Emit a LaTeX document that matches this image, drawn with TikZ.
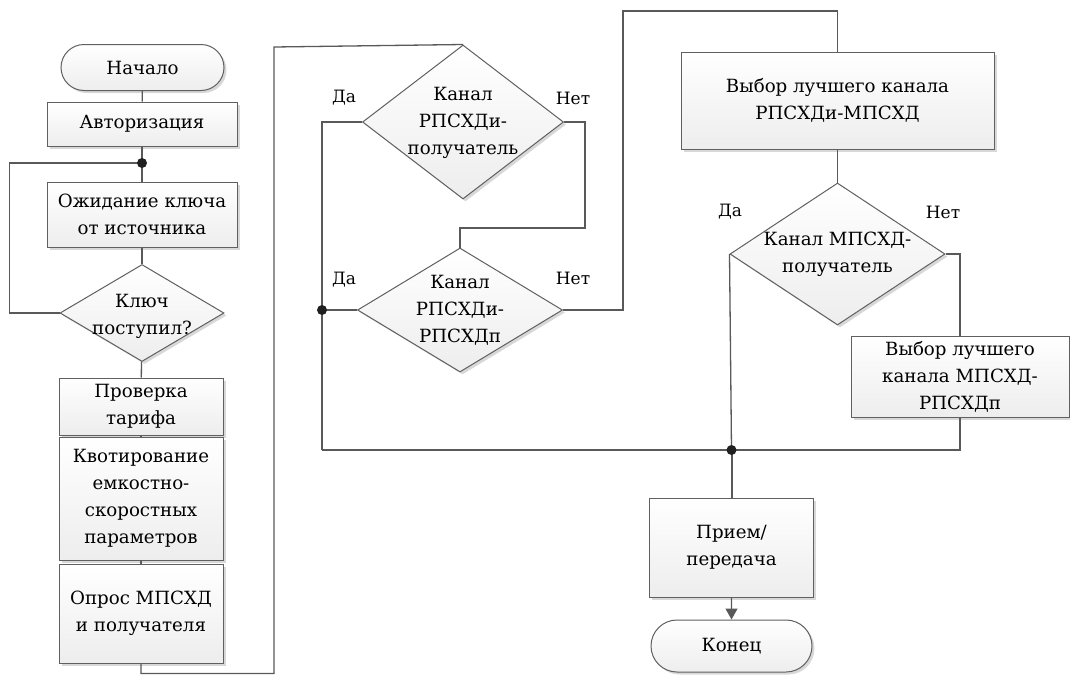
\documentclass[tikz,border=0pt]{standalone}
\usepackage{fontspec}
\setmainfont{DejaVu Serif}
\usetikzlibrary{arrows.meta,shapes.geometric,shapes.misc,shadows}

\tikzset{
  block/.style={rectangle, draw=gray!75!black, line width=1pt, top color=white, bottom color=gray!14,
    drop shadow={shadow xshift=2.5pt, shadow yshift=-2.5pt, opacity=0.3}, align=center, inner sep=1pt},
  term/.style={rounded rectangle, draw=gray!75!black, line width=1pt, top color=white, bottom color=gray!14,
    drop shadow={shadow xshift=2.5pt, shadow yshift=-2.5pt, opacity=0.3}, inner sep=1pt},
  decision/.style={diamond, draw=gray!75!black, line width=1pt, top color=white, bottom color=gray!14,
    drop shadow={shadow xshift=2.5pt, shadow yshift=-2.5pt, opacity=0.3}, inner sep=0pt},
  dtext/.style={align=center, inner sep=0pt},
  line/.style={draw=gray!70!black, line width=1.3pt},
  dot/.style={circle, fill=gray!25!black, inner sep=0pt, minimum size=10pt},
  answer/.style={font=\fontsize{17}{20}\selectfont}
}

\begin{document}
\begin{tikzpicture}[x=1pt, y=-1pt, font=\fontsize{18.2}{27}\selectfont]
  \useasboundingbox (0,0) rectangle (1070,675);
  \fill[white] (0,0) rectangle (1070,675);

  \node[term, minimum width=165pt, minimum height=46pt] (start) at (142.5,67.5) {Начало};
  \node[block, minimum width=190pt, minimum height=44pt] (auth) at (142,124) {Авторизация};
  \node[block, minimum width=190pt, minimum height=65pt] (wait) at (142,214.5) {Ожидание ключа\\от источника};
  \node[decision, minimum width=164pt, minimum height=97pt] (key) at (142,313) {};
  \node[dtext] (keyt) at (142,316) {Ключ\\поступил?};
  \node[block, minimum width=164pt, minimum height=57pt] (tariff) at (141,406.5) {Проверка\\тарифа};
  \node[block, minimum width=164pt, minimum height=123pt] (quota) at (141,498.5) {Квотирование\\емкостно-\\скоростных\\параметров};
  \node[block, minimum width=164pt, minimum height=99pt] (poll) at (141,613.5) {Опрос МПСХД\\и получателя};

  \node[decision, minimum width=201pt, minimum height=154pt] (d1) at (463,122) {};
  \node[dtext] (d1t) at (463,123) {Канал\\РПСХДи-\\получатель};
  \node[decision, minimum width=205pt, minimum height=124pt] (d2) at (460,310) {};
  \node[dtext] (d2t) at (460,310) {Канал\\РПСХДи-\\РПСХДп};

  \node[block, minimum width=313pt, minimum height=97pt] (best1) at (837.5,100.5) {Выбор лучшего канала\\РПСХДи-МПСХД};
  \node[decision, minimum width=215pt, minimum height=142pt] (d3) at (837.5,254) {};
  \node[dtext] (d3t) at (837.5,254) {Канал МПСХД-\\получатель};
  \node[block, minimum width=218pt, minimum height=81pt] (best2) at (960,376.5) {Выбор лучшего\\канала МПСХД-\\РПСХДп};
  \node[block, minimum width=164pt, minimum height=99pt] (trx) at (731.5,547.5) {Прием/\\передача};
  \node[term, minimum width=163pt, minimum height=52pt] (stop) at (731.5,646) {Конец};

  \node[answer] (yes1) at (344,98) {Да};
  \node[answer] (no1) at (573,98) {Нет};
  \node[answer] (yes2) at (344,280) {Да};
  \node[answer] (no2) at (573,278) {Нет};
  \node[answer] (yes3) at (730,212) {Да};
  \node[answer] (no3) at (943,212) {Нет};

  \coordinate (j1) at (142,163);
  \coordinate (j2) at (322,310);
  \coordinate (j3) at (731.5,450);
  \coordinate (low) at (322,450);
  \coordinate (up) at (274,47);
  \coordinate (top) at (623,11);

  \draw[line] (start) -- (auth);
  \draw[line] (auth) -- (wait);
  \draw[line] (key.west) -- ++(-50,0) |- (j1);
  \draw[line] (wait) -- (key);
  \draw[line] (key) -- (tariff);
  \draw[line] (tariff) -- (quota);
  \draw[line] (quota) -- (poll);
  \draw[line] (poll.south) -- ++(0,10) -| (up) -- (d1.north);
  \draw[line] (d1.west) -| (low);
  \draw[line] (d2.west) -- (j2);
  \draw[line] (d1.east) -| (585,228) -| (d2.north);
  \draw[line] (d2.east) -| (top) -| (best1.north);
  \draw[line] (best1) -- (d3);
  \draw[line] (d3.west) -- (j3);
  \draw[line] (d3.east) -| (best2.north);
  \draw[line] (best2.south) |- (low);
  \draw[line, line width=2pt] (j3) -- (trx.north);
  \draw[line, -{Triangle[width=12pt,length=11pt]}] (trx) -- (stop);

  \node[dot] (p1) at (j1) {};
  \node[dot] (p2) at (j2) {};
  \node[dot] (p3) at (j3) {};
\end{tikzpicture}
\end{document}
